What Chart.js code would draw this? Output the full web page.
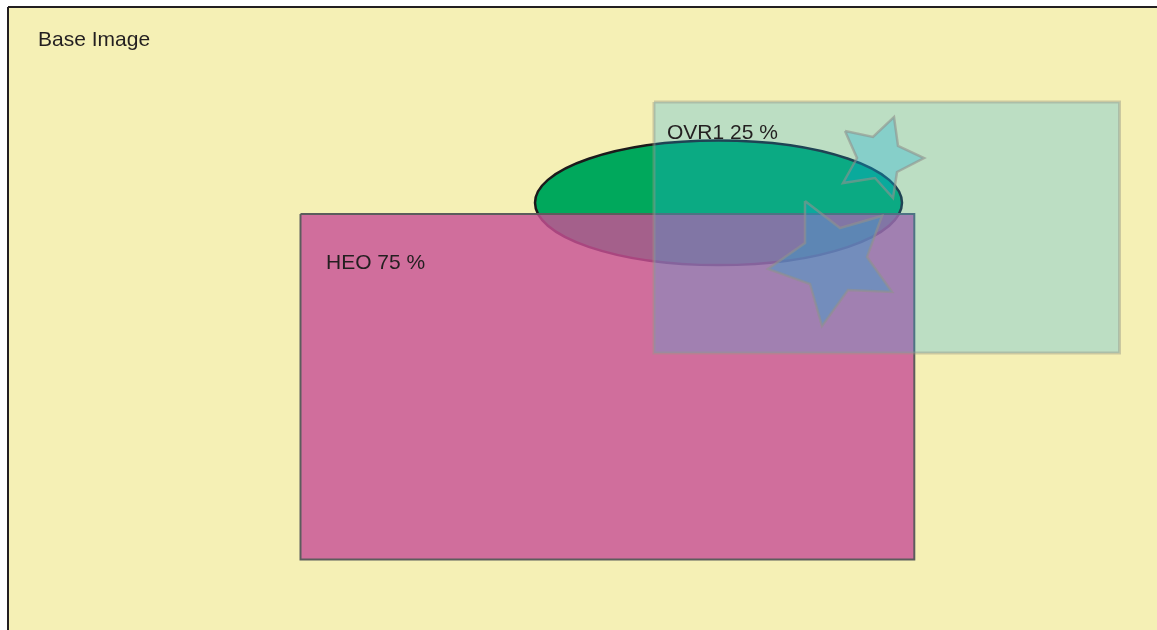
<!DOCTYPE html>
<html>
<head>
<meta charset="utf-8">
<script src="https://cdn.jsdelivr.net/npm/chart.js@4/dist/chart.umd.min.js"></script>
<style>
  html, body { margin: 0; padding: 0; background: #ffffff; }
  #c { display: block; }
</style>
</head>
<body>
<canvas id="c" width="1157" height="630"></canvas>
<script>
// layer names and opacity shown in the labels
var layerNames = ["Base Image", "HEO", "OVR1"];
var layerOpacity = [null, 75, 25];
var labelX = [38, 326, 667];
var labelY = [46, 269, 139];

// outlines (closed, first point repeated)
var baseX = [8, 1170, 1170, 8, 8];
var baseY = [7, 7, 640, 640, 7];
var heoX = [300.5, 914.3, 914.3, 300.5, 300.5];
var heoY = [214, 214, 559.5, 559.5, 214];
var ovrX = [654, 1119.5, 1119.5, 654, 654];
var ovrY = [102, 102, 353, 353, 102];
var star1X = [845, 873, 894, 898, 924, 897, 893, 875, 843, 857, 845];
var star1Y = [131, 137, 117, 146, 158, 172, 198, 178, 183, 158, 131];
var star2X = [805, 840, 882, 867, 892, 848, 822, 810, 768, 805, 805];
var star2Y = [201, 228, 216, 257, 292, 290, 326, 284, 269, 243, 201];
var ellipseCenter = [718.5, 202.8];
var ellipseRadius = [183.5, 62.3];

function pts(xs, ys) {
  return xs.map(function (x, i) { return { x: x, y: ys[i] }; });
}

function shape(data, fillCol, lineCol, lineW, ord) {
  return {
    data: data,
    showLine: true,
    fill: 'shape',
    tension: 0,
    pointRadius: 0,
    pointHoverRadius: 0,
    backgroundColor: fillCol,
    borderColor: lineCol,
    borderWidth: lineW,
    borderJoinStyle: 'miter',
    order: ord
  };
}

// ellipse sits on the base image, under the HEO layer
var layerPlugin = {
  id: 'layers',
  afterDatasetDraw: function (chart, args) {
    if (args.index !== 0) return;
    var ctx = chart.ctx, sx = chart.scales.x, sy = chart.scales.y;
    var cx = sx.getPixelForValue(ellipseCenter[0]);
    var cy = sy.getPixelForValue(ellipseCenter[1]);
    var rx = Math.abs(sx.getPixelForValue(ellipseCenter[0] + ellipseRadius[0]) - cx);
    var ry = Math.abs(sy.getPixelForValue(ellipseCenter[1] + ellipseRadius[1]) - cy);
    ctx.save();
    ctx.beginPath();
    ctx.ellipse(cx, cy, rx, ry, 0, 0, Math.PI * 2);
    ctx.fillStyle = '#00a85c';
    ctx.fill();
    ctx.lineWidth = 2.5;
    ctx.strokeStyle = '#1c1a1b';
    ctx.stroke();
    ctx.restore();
  },
  afterDatasetsDraw: function (chart) {
    var ctx = chart.ctx, sx = chart.scales.x, sy = chart.scales.y;
    ctx.save();
    ctx.font = '21px "Liberation Sans", Arial, sans-serif';
    ctx.fillStyle = '#231f20';
    ctx.textBaseline = 'alphabetic';
    layerNames.forEach(function (n, i) {
      var txt = layerOpacity[i] == null ? n : n + ' ' + layerOpacity[i] + ' %';
      ctx.fillText(txt, sx.getPixelForValue(labelX[i]), sy.getPixelForValue(labelY[i]));
    });
    ctx.restore();
  }
};

new Chart(document.getElementById('c'), {
  type: 'scatter',
  data: {
    datasets: [
      shape(pts(baseX, baseY), '#f5f0b5', '#231f20', 2, 4),
      shape(pts(heoX, heoY), 'rgba(200,81,150,0.82)', '#5c5c5c', 2, 3),
      shape(pts(ovrX, ovrY), 'rgba(41,176,235,0.28)', 'rgba(150,150,135,0.45)', 3, 2),
      shape(pts(star1X, star1Y), 'rgba(10,172,215,0.3)', 'rgba(145,145,140,0.6)', 2.5, 1),
      shape(pts(star2X, star2Y), 'rgba(10,172,215,0.3)', 'rgba(145,145,140,0.6)', 2.5, 0)
    ]
  },
  options: {
    responsive: false,
    animation: false,
    events: [],
    layout: { padding: 0 },
    plugins: {
      legend: { display: false },
      tooltip: { enabled: false }
    },
    scales: {
      x: { type: 'linear', min: 0, max: 1157, display: false },
      y: { type: 'linear', min: 0, max: 630, reverse: true, display: false }
    }
  },
  plugins: [layerPlugin]
});
</script>
</body>
</html>
